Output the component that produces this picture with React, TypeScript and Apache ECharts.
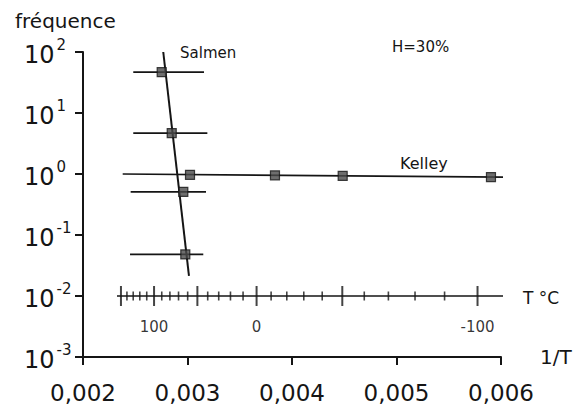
import React, { useEffect, useRef } from "react";
import * as echarts from "echarts";

const FONT = "DejaVu Sans";
const INK = "#151515";

// Salmen measurements: 1/T, frequency, and horizontal error range (1/T low, high)
const salmenX = [0.002753, 0.002849, 0.00296, 0.002979];
const salmenY = [46.7, 4.69, 0.51, 0.048];
const salmenErrLow = [0.002481, 0.002481, 0.002456, 0.00245];
const salmenErrHigh = [0.003158, 0.00319, 0.003177, 0.003151];
// Salmen fitted line end points
const salmenFitX = [0.002768, 0.003014];
const salmenFitY = [100, 0.0213];

// Kelley measurements
const kelleyX = [0.003024, 0.003837, 0.004485, 0.005904];
const kelleyY = [0.97, 0.95, 0.93, 0.89];
// Kelley line end points
const kelleyFitX = [0.00238, 0.006252];
const kelleyFitY = [1.0, 0.88];

// Temperature scale (°C) drawn at frequency 10^-2
const tempAxisLevel = 0.01;
const tempAxisStartX = 0.002325;
const tempAxisEndX = 0.006086;
const tempMajor = [150, 100, 50, 0, -50, -100];
const tempMinor = [140, 130, 120, 110, 90, 80, 70, 60, 40, 30, 20, 10, -10, -20, -30, -40, -60, -70, -80, -90];
const tempLabelled = [100, 0, -100];

const toInvT = (c: number) => 1 / (c + 273.15);

export default function App() {
  const ref = useRef<HTMLDivElement>(null);
  useEffect(() => {
    if (!ref.current) return;
    document.body.style.margin = "0";
    const chart = echarts.init(ref.current, null, { renderer: "svg" });
    const option: any = {
      animation: false,
      backgroundColor: "#ffffff",
      grid: { left: 83, right: 74, top: 52, bottom: 46, containLabel: false },
      xAxis: {
        type: "value",
        min: 0.002,
        max: 0.006,
        interval: 0.001,
        name: "1/T",
        nameLocation: "end",
        nameGap: 39,
        nameTextStyle: { fontFamily: FONT, fontSize: 20, color: INK, padding: [8, 0, 0, 0] },
        axisLine: { show: true, onZero: false, lineStyle: { color: INK, width: 2 } },
        axisTick: { show: true, inside: false, length: 8, lineStyle: { color: INK, width: 2 } },
        axisLabel: {
          fontFamily: FONT,
          fontSize: 23,
          color: INK,
          margin: 24,
          formatter: (v: number) => v.toFixed(3).replace(".", ","),
        },
        splitLine: { show: false },
      },
      yAxis: {
        type: "log",
        logBase: 10,
        min: 0.001,
        max: 100,
        axisLine: { show: true, lineStyle: { color: INK, width: 2 } },
        axisTick: { show: true, inside: false, length: 8, lineStyle: { color: INK, width: 2 } },
        axisLabel: {
          align: "left",
          margin: 59,
          formatter: (v: number) => {
            const e = Math.round(Math.log10(v));
            return `{b|10}{s|${e}}`;
          },
          rich: {
            b: { fontFamily: FONT, fontSize: 24, color: INK, padding: [6, 2, 0, 0] },
            s: { fontFamily: FONT, fontSize: 15, color: INK, verticalAlign: "top" },
          },
        },
        splitLine: { show: false },
        minorTick: { show: false },
      },
      graphic: [
        { type: "text", x: 15, y: 21, style: { text: "fréquence", font: `20px "${FONT}"`, fill: INK, verticalAlign: "middle" } },
        { type: "text", x: 180, y: 53, style: { text: "Salmen", font: `15px "${FONT}"`, fill: INK, verticalAlign: "middle" } },
        { type: "text", x: 392, y: 47, style: { text: "H=30%", font: `15px "${FONT}"`, fill: INK, verticalAlign: "middle" } },
        { type: "text", x: 400, y: 163, style: { text: "Kelley", font: `16px "${FONT}"`, fill: INK, verticalAlign: "middle" } },
      ],
      series: [
        {
          name: "tempAxis",
          type: "line",
          data: [
            [tempAxisStartX, tempAxisLevel],
            [tempAxisEndX, tempAxisLevel],
          ],
          symbol: "none",
          lineStyle: { color: INK, width: 1.6 },
          endLabel: { show: true, formatter: "T °C", distance: 20, fontFamily: FONT, fontSize: 17, color: INK, offset: [0, 2] },
          z: 2,
        },
        {
          name: "tempMinor",
          type: "scatter",
          data: tempMinor.map((t) => [toInvT(t), tempAxisLevel]),
          symbol: "rect",
          symbolSize: [1.6, 9],
          itemStyle: { color: INK },
          z: 2,
        },
        {
          name: "tempMajor",
          type: "scatter",
          data: tempMajor.map((t) => ({
            value: [toInvT(t), tempAxisLevel],
            label: {
              show: tempLabelled.includes(t),
              formatter: String(t),
              position: "bottom",
              distance: 13,
              fontFamily: FONT,
              fontSize: 15,
              color: "#000000",
            },
          })),
          symbol: "rect",
          symbolSize: [2, 20],
          itemStyle: { color: INK },
          z: 2,
        },
        {
          name: "salmenErr",
          type: "custom",
          data: salmenX.map((_, i) => [salmenErrLow[i], salmenErrHigh[i], salmenY[i]]),
          encode: { x: [0, 1], y: 2 },
          renderItem: (params: any, api: any) => {
            const y = api.value(2);
            const p1 = api.coord([api.value(0), y]);
            const p2 = api.coord([api.value(1), y]);
            return {
              type: "line",
              shape: { x1: p1[0], y1: p1[1], x2: p2[0], y2: p2[1] },
              style: { stroke: INK, lineWidth: 1.7 },
            };
          },
          z: 3,
        },
        {
          name: "salmenFit",
          type: "line",
          data: salmenFitX.map((x, i) => [x, salmenFitY[i]]),
          symbol: "none",
          lineStyle: { color: INK, width: 2 },
          z: 4,
        },
        {
          name: "kelleyFit",
          type: "line",
          data: kelleyFitX.map((x, i) => [x, kelleyFitY[i]]),
          symbol: "none",
          lineStyle: { color: INK, width: 1.7 },
          z: 4,
        },
        {
          name: "Salmen",
          type: "scatter",
          data: salmenX.map((x, i) => [x, salmenY[i]]),
          symbol: "rect",
          symbolSize: 9,
          itemStyle: { color: "#4a4a4a", borderColor: INK, borderWidth: 1.2 },
          z: 5,
        },
        {
          name: "Kelley",
          type: "scatter",
          data: kelleyX.map((x, i) => [x, kelleyY[i]]),
          symbol: "rect",
          symbolSize: 9,
          itemStyle: { color: "#4a4a4a", borderColor: INK, borderWidth: 1.2 },
          z: 5,
        },
      ],
    };
    chart.setOption(option);
    return () => chart.dispose();
  }, []);
  return <div ref={ref} style={{ width: 575, height: 404 }} />;
}
